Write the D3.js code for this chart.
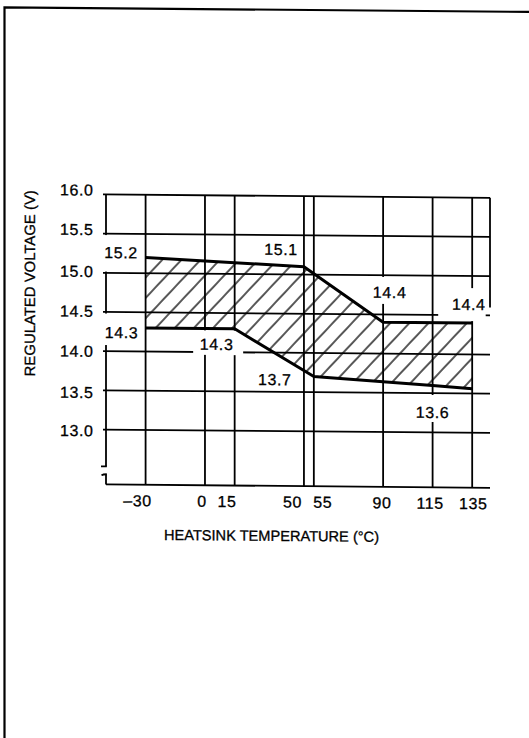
<!DOCTYPE html>
<html>
<head>
<meta charset="utf-8">
<script src="https://cdn.jsdelivr.net/npm/d3@7"></script>
<style>
  html, body { margin: 0; padding: 0; background: #fff; }
  svg { display: block; }
  text { font-family: "Liberation Sans", Arial, Helvetica, sans-serif; fill: #000; stroke: #000; stroke-width: 0.3px; }
</style>
</head>
<body>
<svg id="chart" width="529" height="738"></svg>
<script>
// Regulated voltage window versus heatsink temperature
const tempTicks = [-30, 0, 15, 50, 55, 90, 115, 135];
const voltTicks = [16.0, 15.5, 15.0, 14.5, 14.0, 13.5, 13.0];

// Upper limit of the regulated voltage band
const upperTemp = [-30, 50, 90, 135];
const upperVolt = [15.2, 15.1, 14.4, 14.4];

// Lower limit of the regulated voltage band
const lowerTemp = [-30, 15, 55, 115, 135];
const lowerVolt = [14.3, 14.3, 13.7, 13.6, 13.56];

// Value callouts
const calloutTemp = [-30, -30, 50, 90, 135, 15, 55, 115];
const calloutVolt = [15.2, 14.3, 15.1, 14.4, 14.4, 14.3, 13.7, 13.6];

const xTitle = "HEATSINK TEMPERATURE (°C)";
const yTitle = "REGULATED VOLTAGE (V)";

const svg = d3.select("#chart");
const root = svg.append("g").attr("transform", "skewY(0.5)");

// page frame
root.append("path")
  .attr("d", "M4.5,738 L4.5,7.3 L529,7.3")
  .attr("fill", "none").attr("stroke", "#000").attr("stroke-width", 2.2);

const x = d3.scaleLinear().domain([-50, 144]).range([106, 490]);
const y = d3.scaleLinear().domain([12.3, 16.0]).range([483.5, 193.5]);
const [tMin, tMax] = x.domain();
const [vMin, vMax] = y.domain();

// hatch pattern
const defs = svg.append("defs");
const pat = defs.append("pattern")
  .attr("id", "hatch")
  .attr("patternUnits", "userSpaceOnUse")
  .attr("width", 13.9).attr("height", 40)
  .attr("patternTransform", "rotate(43)");
pat.append("line")
  .attr("x1", 3).attr("y1", -5).attr("x2", 3).attr("y2", 45)
  .attr("stroke", "#000").attr("stroke-width", 1.3);

const gridW = 1.8;
const grid = root.append("g").attr("stroke", "#000").attr("stroke-width", gridW).attr("fill", "none");

// horizontal grid lines (with short stubs past the left edge)
grid.selectAll("line.h").data(voltTicks).join("line")
  .attr("class", "h")
  .attr("x1", x(tMin) - 3).attr("x2", x(tMax))
  .attr("y1", d => y(d)).attr("y2", d => y(d));

// vertical grid lines
grid.selectAll("line.v").data(tempTicks).join("line")
  .attr("class", "v")
  .attr("x1", d => x(d)).attr("x2", d => x(d))
  .attr("y1", y(vMax)).attr("y2", y(vMin));

// bottom edge
grid.append("line")
  .attr("x1", x(tMin)).attr("x2", x(tMax))
  .attr("y1", y(vMin)).attr("y2", y(vMin));

// left edge with axis break
const breakHi = 12.53, breakLo = 12.43;
grid.append("line")
  .attr("x1", x(tMin)).attr("x2", x(tMin))
  .attr("y1", y(vMax)).attr("y2", y(breakHi));
grid.append("line")
  .attr("x1", x(tMin)).attr("x2", x(tMin))
  .attr("y1", y(breakLo)).attr("y2", y(vMin));
grid.append("path")
  .attr("d", `M${x(tMin) - 5},${y(breakHi)} L${x(tMin) + 0.8},${y(breakHi)}`);
grid.append("path")
  .attr("d", `M${x(tMin) - 4.5},${y(breakLo) + 1.2} Q${x(tMin) - 3},${y(breakLo)} ${x(tMin) + 0.8},${y(breakLo)}`);

// right edge (upper part)
grid.append("line")
  .attr("x1", x(tMax)).attr("x2", x(tMax))
  .attr("y1", y(vMax)).attr("y2", y(14.6));

// callout text placement relative to the annotated point
const calloutLayout = [
  { dx: -24.5, dy: 1,    box: [-21, 19, -23, 13.5] },
  { dx: -24,   dy: 10.3, box: [-21, 19, -24.5, 7] },
  { dx: -23,   dy: -11.5, box: null },
  { dx: 6.5,   dy: -24.3, box: [-20, 20, -21, 6] },
  { dx: -3.5,  dy: -13,  box: [-30.5, 17, -22, 11] },
  { dx: -18,   dy: 21.3, box: [-23.5, 26.5, -19.5, 5] },
  { dx: -39,   dy: 9,    box: null },
  { dx: 0,     dy: 32.6, box: [-20, 20, -23, 4] }
];

const callouts = calloutTemp.map((t, i) => ({
  t, v: calloutVolt[i], text: calloutVolt[i].toFixed(1), lay: calloutLayout[i]
}));

// white boxes that interrupt the grid behind callouts
root.append("g").selectAll("rect").data(callouts.filter(d => d.lay.box)).join("rect")
  .attr("x", d => x(d.t) + d.lay.dx + d.lay.box[0])
  .attr("width", d => d.lay.box[1] - d.lay.box[0])
  .attr("y", d => y(d.v) + d.lay.dy + d.lay.box[2])
  .attr("height", d => d.lay.box[3] - d.lay.box[2])
  .attr("fill", "#fff");

// hatched band between the limits
const upperPts = upperTemp.map((t, i) => [t, upperVolt[i]]);
const lowerPts = lowerTemp.map((t, i) => [t, lowerVolt[i]]);
const line = d3.line().x(d => x(d[0])).y(d => y(d[1]));
root.append("path")
  .attr("d", line(upperPts.concat(lowerPts.slice().reverse())) + "Z")
  .attr("fill", "url(#hatch)")
  .attr("stroke", "none");

// limit curves
root.append("path").attr("d", line(upperPts))
  .attr("fill", "none").attr("stroke", "#000").attr("stroke-width", 3).attr("stroke-linejoin", "round");
root.append("path").attr("d", line(lowerPts))
  .attr("fill", "none").attr("stroke", "#000").attr("stroke-width", 3).attr("stroke-linejoin", "round");

const numFont = { size: 16, spacing: 0.6 };

// callout text
root.append("g").selectAll("text").data(callouts).join("text")
  .attr("x", d => x(d.t) + d.lay.dx)
  .attr("y", d => y(d.v) + d.lay.dy)
  .attr("text-anchor", "middle")
  .attr("font-size", numFont.size)
  .attr("letter-spacing", numFont.spacing)
  .text(d => d.text);

// y tick labels
const yLabelShift = [-4.5, -4.2, -1.5, -0.8, 0, 2, 1];
root.append("g").selectAll("text").data(voltTicks).join("text")
  .attr("x", 93.5)
  .attr("y", (d, i) => y(d) + 5.8 + yLabelShift[i])
  .attr("text-anchor", "end")
  .attr("font-size", numFont.size)
  .attr("letter-spacing", numFont.spacing)
  .text(d => d.toFixed(1));

// x tick labels
const xLabelShift = [-8, -3, -7.6, -11.5, 9, -1, -2.4, 1];
root.append("g").selectAll("text").data(tempTicks).join("text")
  .attr("x", (d, i) => x(d) + xLabelShift[i])
  .attr("y", 505)
  .attr("text-anchor", "middle")
  .attr("font-size", numFont.size)
  .attr("letter-spacing", numFont.spacing)
  .text(d => d < 0 ? "\u2013" + Math.abs(d) : String(d));

// axis titles
root.append("text")
  .attr("x", 271.5).attr("y", 538.5)
  .attr("text-anchor", "middle")
  .attr("font-size", 14.6)
  .text(xTitle);

root.append("text")
  .attr("transform", "translate(35,283) rotate(-90)")
  .attr("text-anchor", "middle")
  .attr("font-size", 14.9)
  .text(yTitle);
</script>
</body>
</html>
